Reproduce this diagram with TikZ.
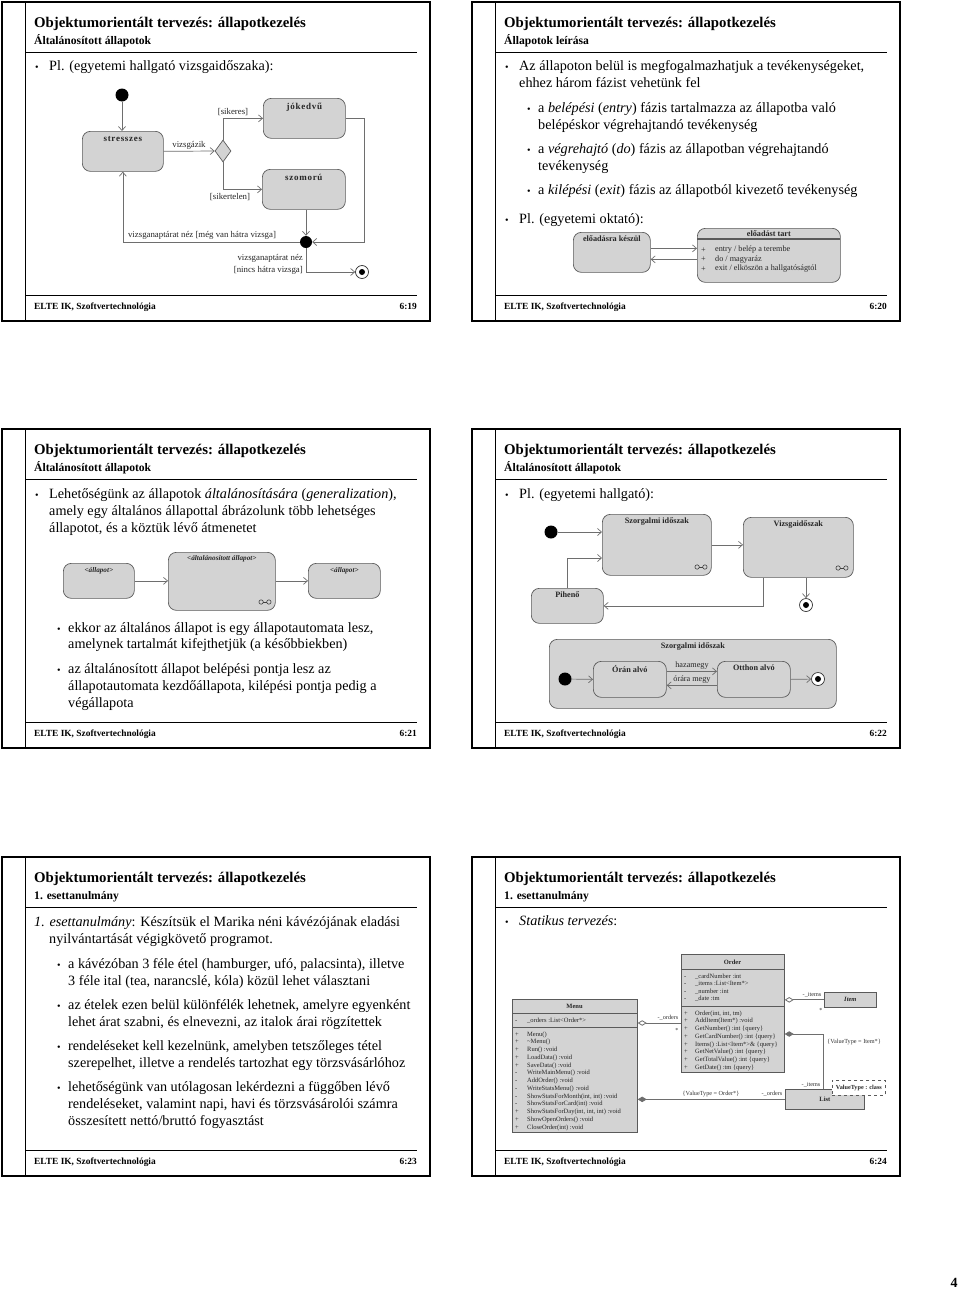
\documentclass[tikz,border=0pt]{standalone}
\usepackage{fontspec}
\setmainfont{Liberation Serif}
\usetikzlibrary{arrows.meta,shapes.geometric,calc}
\definecolor{boxgray}{HTML}{D3D3D3}
\definecolor{edgegray}{HTML}{5A5A5A}
\definecolor{linegray}{HTML}{6E6E6E}
\tikzset{
 titlef/.style={anchor=base west, inner sep=0pt, font=\fontsize{14.8pt}{17pt}\selectfont\bfseries},
 subf/.style={anchor=base west, inner sep=0pt, font=\fontsize{11.6pt}{14pt}\selectfont\bfseries},
 footf/.style={anchor=base west, inner sep=0pt, font=\fontsize{9.4pt}{11pt}\selectfont\bfseries},
 body/.style={anchor=base west, inner sep=0pt, font=\fontsize{14.2pt}{17pt}\selectfont},
 bul/.style={anchor=base west, inner sep=0pt, font=\fontsize{10pt}{12pt}\selectfont},
 stbox/.style={draw=edgegray, fill=boxgray, rounded corners=8pt, line width=0.7pt, inner sep=0pt, anchor=north west},
 clsbox/.style={draw=edgegray, fill=boxgray, line width=0.7pt, inner sep=0pt, anchor=north west},
 lblb/.style={font=\fontsize{9pt}{10pt}\selectfont\bfseries\addfontfeatures{LetterSpace=8}, inner sep=0pt, anchor=north, text=black!85},
 lbl/.style={font=\fontsize{8.8pt}{12pt}\selectfont, inner sep=0pt, text=black!85},
 lblc/.style={font=\fontsize{8.2pt}{10pt}\selectfont\bfseries, inner sep=0pt, anchor=north, text=black!85},
 lbls/.style={font=\fontsize{8.2pt}{10pt}\selectfont, inner sep=0pt, text=black!85},
 lblbi/.style={font=\fontsize{7.2pt}{9pt}\selectfont\bfseries\itshape, inner sep=0pt, anchor=north, text=black!85},
 cls/.style={font=\fontsize{6.5pt}{7.5pt}\selectfont, inner sep=0pt, anchor=base west, text=black!85},
 clsb/.style={font=\fontsize{6.5pt}{7.5pt}\selectfont\bfseries, inner sep=0pt, text=black!85},
 clsl/.style={font=\fontsize{6.2pt}{7.5pt}\selectfont, inner sep=0pt, text=black!80},
 arr/.style={draw=linegray, line width=0.7pt, -{Straight Barb[length=4pt,width=7pt]}},
 ln/.style={draw=linegray, line width=0.7pt},
 aggr/.style={draw=linegray, line width=0.8pt, {Diamond[open,length=9pt,width=5.5pt]}-},
 compo/.style={draw=linegray, line width=0.8pt, {Diamond[length=9pt,width=5.5pt]}-},
 initc/.style={circle, fill=black, minimum size=13pt, inner sep=0pt},
 finst/.style={circle, draw=black!80, fill=white, minimum size=13pt, inner sep=0pt, line width=0.7pt,
   path picture={\fill[black] (path picture bounding box.center) circle[radius=3pt];}},
 submach/.pic={\draw[draw=black!75, line width=0.6pt] (-3.9,0) circle[radius=2.2pt] (3.9,0) circle[radius=2.2pt];
   \draw[draw=black!75, line width=0.6pt] (-1.7,0) -- (1.7,0);}
}
\newcommand\slideframe[3]{%
 \draw[line width=1.4pt] (2,2) rectangle (430,321);
 \draw[line width=0.7pt] (25,2) -- (25,321);
 \draw[line width=0.8pt] (25,52) -- (417,52);
 \draw[line width=0.8pt] (25,295) -- (417,295);
 \node[titlef] (#1title) at (34,27) {Objektumorientált tervezés: állapotkezelés};
 \node[subf] (#1sub) at (34,44) {#2};
 \node[footf] (#1foot) at (34,309) {ELTE IK, Szoftvertechnológia};
 \node[footf, anchor=base east] (#1num) at (417,309) {#3};
}
\begin{document}
\begin{tikzpicture}[x=1pt,y=-1pt]
\useasboundingbox (0,0) rectangle (960,1293);
\fill[white] (0,0) rectangle (960,1293);

% ================= Slide 6:19 =================
\begin{scope}
\slideframe{a}{Általánosított állapotok}{6:19}
\node[bul] (ab1) at (35,70) {•};
\node[body] (at1) at (49,70) {Pl. (egyetemi hallgató vizsgaidőszaka):};
\node[initc] (s1init) at (122,95) {};
\node[stbox, minimum width=81pt, minimum height=40pt] (stressz) at (82,131) {};
\node[lblb] (stresszL) at ([yshift=-5pt]stressz.north) {stresszes};
\node[stbox, minimum width=82pt, minimum height=40pt] (jok) at (263,98) {};
\node[lblb] (jokL) at ([yshift=-5pt]jok.north) {jókedvű};
\node[stbox, minimum width=83pt, minimum height=40pt] (szom) at (262,169) {};
\node[lblb] (szomL) at ([yshift=-5pt]szom.north) {szomorú};
\node[diamond, draw=edgegray, fill=boxgray, line width=0.7pt, minimum width=16pt, minimum height=22pt, inner sep=0pt] (dec) at (223,151) {};
\node[initc, minimum size=12pt] (junc) at (306,242) {};
\node[finst] (s1fin) at (362,272) {};
\draw[arr] (s1init) -- (s1init |- stressz.north);
\draw[arr] (stressz.east) -- (dec.west);
\draw[arr] (dec.north) |- (jok.west);
\draw[arr] (dec.south) |- (szom.west);
\draw[arr] (junc |- szom.south) -- (junc);
\draw[arr] (jok.east) -- ++(19,0) |- (junc.east);
\draw[arr] (junc.west) -| (stressz.south);
\draw[arr] (junc.south) |- (s1fin.west);
\node[lbl, anchor=south] (vizsL) at (189,149.5) {vizsgázik};
\node[lbl, anchor=south] (sikL) at (233,116) {[sikeres]};
\node[lbl, anchor=north] (sikerL) at (230,193) {[sikertelen]};
\node[lbl, anchor=south] (megL) at (202,239.5) {vizsganaptárat néz [még van hátra vizsga]};
\node[lbl, anchor=east, align=right] (nincsL) at (303,264) {vizsganaptárat néz\\ {[}nincs hátra vizsga{]}};
\end{scope}

% ================= Slide 6:20 =================
\begin{scope}[shift={(470,0)}]
\slideframe{b}{Állapotok leírása}{6:20}
\node[bul] (bb1) at (35,70) {•};
\node[body] (bt1) at (49,70) {Az állapoton belül is megfogalmazhatjuk a tevékenységeket,};
\node[body] (bt2) at (49,87) {ehhez három fázist vehetünk fel};
\node[bul] (bb2) at (57,112) {•};
\node[body] (bt3) at (68,112) {a \textit{belépési} (\textit{entry}) fázis tartalmazza az állapotba való};
\node[body] (bt4) at (68,129) {belépéskor végrehajtandó tevékenység};
\node[bul] (bb3) at (57,153) {•};
\node[body] (bt5) at (68,153) {a \textit{végrehajtó} (\textit{do}) fázis az állapotban végrehajtandó};
\node[body] (bt6) at (68,170) {tevékenység};
\node[bul] (bb4) at (57,194) {•};
\node[body] (bt7) at (68,194) {a \textit{kilépési} (\textit{exit}) fázis az állapotból kivezető tevékenység};
\node[bul] (bb5) at (35,223) {•};
\node[body] (bt8) at (49,223) {Pl. (egyetemi oktató):};
\node[stbox, minimum width=77pt, minimum height=40pt] (eloK) at (103,232) {};
\node[lblc] (eloKL) at ([yshift=-4pt]eloK.north) {előadásra készül};
\node[stbox, minimum width=143pt, minimum height=54pt] (eloT) at (227,228) {};
\draw[draw=edgegray, line width=1.1pt] (227,239) -- (370,239);
\node[lblc] (eloTL) at ([yshift=-2.5pt]eloT.north) {előadást tart};
\node[lbls, anchor=west] (eloTp1) at (231,250) {+};
\node[lbls, anchor=west] (eloTp2) at (231,259.5) {+};
\node[lbls, anchor=west] (eloTp3) at (231,269) {+};
\node[lbls, anchor=west] (eloTi1) at (245,250) {entry / belép a terembe};
\node[lbls, anchor=west] (eloTi2) at (245,259.5) {do / magyaráz};
\node[lbls, anchor=west] (eloTi3) at (245,269) {exit / elköszön a hallgatóságtól};
\path ([yshift=4pt]eloK.east) coordinate (bp1);
\path ([yshift=-7pt]eloK.east) coordinate (bp2);
\draw[arr] (bp1) -- (bp1 -| eloT.west);
\draw[arr] (bp2 -| eloT.west) -- (bp2);
\end{scope}

% ================= Slide 6:21 =================
\begin{scope}[shift={(0,427)}]
\slideframe{c}{Általánosított állapotok}{6:21}
\node[bul] (cb1) at (35,71) {•};
\node[body] (ct1) at (49,71) {Lehetőségünk az állapotok \textit{általánosítására} (\textit{generalization}),};
\node[body] (ct2) at (49,88) {amely egy általános állapottal ábrázolunk több lehetséges};
\node[body] (ct3) at (49,105) {állapotot, és a köztük lévő átmenetet};
\node[stbox, minimum width=71pt, minimum height=35pt] (all1) at (63,136) {};
\node[lblbi] (all1L) at ([yshift=-4pt]all1.north) {<állapot>};
\node[stbox, minimum width=107pt, minimum height=58pt] (gen) at (168,125) {};
\node[lblbi] (genL) at ([yshift=-3pt]gen.north) {<általánosított állapot>};
\node[stbox, minimum width=72pt, minimum height=35pt] (all2) at (308,136) {};
\node[lblbi] (all2L) at ([yshift=-4pt]all2.north) {<állapot>};
\pic at (265,175) {submach};
\draw[arr] (all1.east) -- (all1.east -| gen.west);
\draw[arr] (all2.west -| gen.east) -- (all2.west);
\node[bul] (cb2) at (57,205) {•};
\node[body] (ct4) at (68,205) {ekkor az általános állapot is egy állapotautomata lesz,};
\node[body] (ct5) at (68,221) {amelynek tartalmát kifejthetjük (a későbbiekben)};
\node[bul] (cb3) at (57,246) {•};
\node[body] (ct6) at (68,246) {az általánosított állapot belépési pontja lesz az};
\node[body] (ct7) at (68,263) {állapotautomata kezdőállapota, kilépési pontja pedig a};
\node[body] (ct8) at (68,280) {végállapota};
\end{scope}

% ================= Slide 6:22 =================
\begin{scope}[shift={(470,427)}]
\slideframe{d}{Általánosított állapotok}{6:22}
\node[bul] (db1) at (35,71) {•};
\node[body] (dt1) at (49,71) {Pl. (egyetemi hallgató):};
\node[initc] (s4init) at (81,105) {};
\node[stbox, minimum width=109pt, minimum height=61pt] (szorg) at (132,87) {};
\node[lblc] (szorgL) at ([yshift=-4pt]szorg.north) {Szorgalmi időszak};
\node[stbox, minimum width=110pt, minimum height=60pt] (vizsga) at (273,90) {};
\node[lblc] (vizsgaL) at ([yshift=-4pt]vizsga.north) {Vizsgaidőszak};
\node[stbox, minimum width=72pt, minimum height=35pt] (pihen) at (61,161) {};
\node[lblc] (pihenL) at ([yshift=-4pt]pihen.north) {Pihenő};
\node[finst] (s4fin) at (336,178) {};
\pic at (231,140) {submach};
\pic at (372,141) {submach};
\draw[arr] (s4init) -- (s4init -| szorg.west);
\draw[arr] (szorg.east) -- (szorg.east -| vizsga.west);
\draw[arr] (s4fin |- vizsga.south) -- (s4fin);
\draw[arr] ($(vizsga.south west)+(20,0)$) |- (pihen.east);
\draw[arr] (pihen.north) |- ($(szorg.north west)+(0,44)$);
\node[stbox, minimum width=287pt, minimum height=69pt] (szorgC) at (79,212) {};
\node[lblc] (szorgCL) at ([yshift=-4pt]szorgC.north) {Szorgalmi időszak};
\node[initc] (s4init2) at (95,252) {};
\node[stbox, minimum width=73pt, minimum height=36pt] (oran) at (123,234) {};
\node[lblc] (oranL) at ([yshift=-4pt]oran.north) {Órán alvó};
\node[stbox, minimum width=73pt, minimum height=36pt] (otthon) at (247,234) {};
\node[lblc] (otthonL) at ([yshift=-4pt]otthon.north) {Otthon alvó};
\node[finst] (s4fin2) at (348,252) {};
\draw[arr] (s4init2) -- (oran.west);
\draw[arr] ([yshift=8pt]oran.east) -- ([yshift=8pt]otthon.west);
\draw[arr] ([yshift=-6pt]otthon.west) -- ([yshift=-6pt]oran.east);
\draw[arr] (otthon.east) -- (s4fin2);
\node[lbls, anchor=south] (hazaL) at (222,242) {hazamegy};
\node[lbls, anchor=south] (oraraL) at (222,256.5) {órára megy};
\end{scope}

% ================= Slide 6:23 =================
\begin{scope}[shift={(0,855)}]
\slideframe{e}{1. esettanulmány}{6:23}
\node[body] (et1) at (34,71) {\textit{1. esettanulmány}: Készítsük el Marika néni kávézójának eladási};
\node[body] (et2) at (49,88) {nyilvántartását végigkövető programot.};
\node[bul] (eb1) at (57,113) {•};
\node[body] (et3) at (68,113) {a kávézóban 3 féle étel (hamburger, ufó, palacsinta), illetve};
\node[body] (et4) at (68,130) {3 féle ital (tea, narancslé, kóla) közül lehet választani};
\node[bul] (eb2) at (57,154) {•};
\node[body] (et5) at (68,154) {az ételek ezen belül különfélék lehetnek, amelyre egyenként};
\node[body] (et6) at (68,171) {lehet árat szabni, és elnevezni, az italok árai rögzítettek};
\node[bul] (eb3) at (57,195) {•};
\node[body] (et7) at (68,195) {rendeléseket kell kezelnünk, amelyben tetszőleges tétel};
\node[body] (et8) at (68,212) {szerepelhet, illetve a rendelés tartozhat egy törzsvásárlóhoz};
\node[bul] (eb4) at (57,236) {•};
\node[body] (et9) at (68,236) {lehetőségünk van utólagosan lekérdezni a függőben lévő};
\node[body] (et10) at (68,253) {rendeléseket, valamint napi, havi és törzsvásárolói számra};
\node[body] (et11) at (68,270) {összesített nettó/bruttó fogyasztást};
\end{scope}

% ================= Slide 6:24 =================
\begin{scope}[shift={(470,855)}]
\slideframe{f}{1. esettanulmány}{6:24}
\node[bul] (fb1) at (35,70) {•};
\node[body] (ft1) at (49,70) {\textit{Statikus tervezés}:};
% Menu
\node[clsbox, minimum width=125pt, minimum height=133pt] (menu) at (42,144) {};
\draw[draw=edgegray, line width=0.7pt] (42,158) -- (167,158) (42,172) -- (167,172);
\node[clsb] (menuL) at (104.5,151) {Menu};
\node[cls] (menuas) at (45,167) {-};
\node[cls] (menuat) at (57,167) {\_orders :List<Order*>};
\foreach \sg/\tx [count=\i] in {+/Menu(), +/\textasciitilde Menu(), +/Run() :void, +/LoadData() :void, +/SaveData() :void, -/WriteMainMenu() :void, -/AddOrder() :void, -/WriteStatsMenu() :void, -/{ShowStatsForMonth(int, int) :void}, -/ShowStatsForCard(int) :void, +/{ShowStatsForDay(int, int, int) :void}, +/ShowOpenOrders() :void, +/CloseOrder(int) :void}{
  \node[cls] (menusg\i) at ({45},{181.2+7.75*(\i-1)}) {\sg};
  \node[cls] (menuop\i) at ({57},{181.2+7.75*(\i-1)}) {\tx};
}
% Order
\node[clsbox, minimum width=103pt, minimum height=118pt] (order) at (211,99) {};
\draw[draw=edgegray, line width=0.7pt] (211,114) -- (314,114) (211,151) -- (314,151);
\node[clsb] (orderL) at (262.5,107) {Order};
\foreach \sg/\tx [count=\i] in {-/\_cardNumber :int, -/\_items :List<Item*>, -/\_number :int, -/\_date :tm}{
  \node[cls] (ordas\i) at ({214},{123.3+7.5*(\i-1)}) {\sg};
  \node[cls] (ordat\i) at ({225},{123.3+7.5*(\i-1)}) {\tx};
}
\foreach \sg/\tx [count=\i] in {+/{Order(int, int, tm)}, +/AddItem(Item*) :void, +/GetNumber() :int \{query\}, +/GetCardNumber() :int \{query\}, +/Items() :List<Item*>\& \{query\}, +/GetNetValue() :int \{query\}, +/GetTotalValue() :int \{query\}, +/GetDate() :tm \{query\}}{
  \node[cls] (ordsg\i) at ({214},{160.2+7.7*(\i-1)}) {\sg};
  \node[cls] (ordop\i) at ({225},{160.2+7.7*(\i-1)}) {\tx};
}
% Item, List
\node[clsbox, minimum width=52pt, minimum height=15pt] (item) at (354,137) {};
\node[clsb, font=\fontsize{6.5pt}{7.5pt}\selectfont\bfseries\itshape] (itemL) at (item.center) {Item};
\node[clsbox, minimum width=79pt, minimum height=20pt] (list) at (315,234) {};
\node[clsb] (listL) at (list.center) {List};
\node[draw=edgegray, dashed, fill=white, line width=0.7pt, minimum width=53pt, minimum height=15pt, inner sep=0pt, anchor=north west] (vtype) at (362,225) {};
\node[clsb, font=\fontsize{6.2pt}{7.5pt}\selectfont\bfseries] (vtypeL) at (vtype.center) {ValueType : class};
% connectors
\draw[aggr] ($(menu.north east)+(0,24)$) -- ($(order.north west)+(0,69)$);
\draw[aggr] (order.east |- item.west) -- (item.west);
\draw[compo] ($(order.north east)+(0,80)$) -| ($(list.north west)+(38,0)$);
\draw[compo] (menu.east |- list.west) -- (list.west);
\node[clsl] (lo1) at (198,163) {-\_orders};
\node[clsl] (ls1) at (207,175) {*};
\node[clsl] (li1) at (342,139.5) {-\_items};
\node[clsl] (ls2) at (351,155) {*};
\node[clsl] (lv1) at (384,187) {\{ValueType = Item*\}};
\node[clsl] (li2) at (341,230) {-\_items};
\node[clsl] (lv2) at (241,239.5) {\{ValueType = Order*\}};
\node[clsl] (lo2) at (302,238.5) {-\_orders};
\end{scope}

\node[font=\fontsize{14pt}{16pt}\selectfont\bfseries, inner sep=0pt] (pagenum) at (954,1283) {4};
\end{tikzpicture}
\end{document}
